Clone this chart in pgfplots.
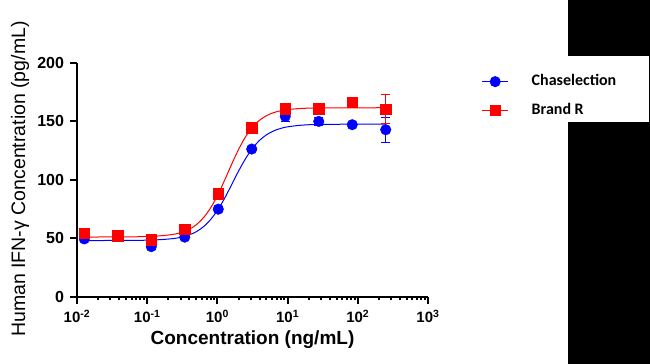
\documentclass[border=0pt]{standalone}
\usepackage{pgfplots}
\pgfplotsset{compat=1.18}
\usepackage{fontspec}
\setmainfont{Liberation Sans}
\newfontfamily\calfont{Carlito}
\begin{document}
\begin{tikzpicture}
\path[use as bounding box] (0,0) rectangle (650bp,364bp);
\fill[white] (0,0) rectangle (650bp,364bp);
\fill[black] (568bp,0) rectangle (650bp,364bp);
\fill[white] (568bp,242bp) rectangle (649bp,308bp);
\begin{axis}[
  at={(77bp,67.3bp)}, anchor=south west,
  scale only axis, width=351bp, height=234bp,
  xmode=log, xmin=1e-2, xmax=1e3, ymin=0, ymax=200,
  axis lines*=left,
  axis line style={line width=2bp},
  every tick/.style={line width=2bp, black},
  tick align=outside, major tick length=7bp,
  xtick={1e-2,1e-1,1,1e1,1e2,1e3},
  xticklabels={10\textsuperscript{-2},10\textsuperscript{-1},10\textsuperscript{0},10\textsuperscript{1},10\textsuperscript{2},10\textsuperscript{3}},
  ytick={0,50,100,150,200},
  yticklabels={0,50,100,150,200},
  minor tick num=0,
  xticklabel style={font=\bfseries\fontsize{15bp}{15bp}\selectfont, yshift=-3bp},
  yticklabel style={font=\bfseries\fontsize{16bp}{16bp}\selectfont, xshift=-2.5bp},
  xlabel={Concentration (ng/mL)},
  ylabel={Human IFN-γ Concentration (pg/mL)},
  xlabel style={font=\bfseries\fontsize{19bp}{19bp}\selectfont, at={(axis description cs:0.5,-0.2064)}, anchor=base},
  ylabel style={font=\fontsize{19.5bp}{19.5bp}\selectfont, at={(axis description cs:-0.148,0.503)}, anchor=base},
  clip=false,
  legend style={draw=none, fill=none, inner sep=0pt, outer sep=0pt,
    at={(axis description cs:1.153,0.951)}, anchor=north west,
    font=\calfont\bfseries\fontsize{16bp}{16bp}\selectfont,
    nodes={inner sep=0pt, text height=11bp, text depth=4bp},
    column sep=23bp, row sep=14.3bp},
  legend cell align=left,
  legend image code/.code={\draw[mark repeat=2,mark phase=2,#1] plot coordinates {(0bp,0bp) (13bp,0bp) (26bp,0bp)};},
]
\addlegendimage{blue, line width=1bp, mark=*, mark size=5bp, mark options={solid, fill=blue}}
\addlegendentry{Chaselection}
\addlegendimage{red, line width=1bp, mark=square*, mark size=5bp, mark options={solid, fill=red}}
\addlegendentry{Brand R}
% fitted curves
\addplot[blue, line width=1bp, smooth, forget plot] coordinates {
(0.0127,48.0) (0.1,48.3) (0.2512,49.9) (0.3981,52.9) (0.5012,55.6) (0.6310,59.7)
(0.7943,65.7) (1,73.7) (1.2589,83.8) (1.5849,95.4) (1.9953,107.2) (2.5119,117.9)
(3.1623,126.8) (3.9811,133.6) (5.0119,138.4) (6.3096,141.7) (7.9433,143.8)
(10,145.2) (15.849,146.6) (31.623,147.3) (250,147.5)};
\addplot[red, line width=1bp, smooth, forget plot] coordinates {
(0.0127,51.0) (0.1,51.4) (0.2512,53.6) (0.3981,57.7) (0.5012,61.6) (0.6310,67.4)
(0.7943,75.6) (1,86.3) (1.2589,99.2) (1.5849,112.8) (1.9953,125.7) (2.5119,136.6)
(3.1623,144.9) (3.9811,150.8) (5.0119,154.7) (6.3096,157.3) (7.9433,158.9)
(10,159.9) (15.849,160.9) (31.623,161.4) (250,161.5)};
% data
\addplot[blue, only marks, mark=*, mark size=5.3bp, forget plot,
  error bars/.cd, y dir=both, y explicit,
  error bar style={line width=1bp, blue},
  error mark options={rotate=90, mark size=4.5bp, line width=1bp, blue}]
  table[x=x, y=y, y error=e] {
x y e
0.0127 49.4 1.5
0.0381 51.4 1.5
0.1143 42.8 2.5
0.343 50.9 2
1.029 74.8 2
3.086 126.2 2
9.259 154.1 4
27.78 149.8 3.7
83.33 147.0 1.5
250 142.7 10.7
};
\addplot[red, only marks, mark=square*, mark size=5.3bp, forget plot,
  error bars/.cd, y dir=both, y explicit,
  error bar style={line width=1bp, red},
  error mark options={rotate=90, mark size=4.5bp, line width=1bp, red}]
  table[x=x, y=y, y error=e] {
x y e
0.0127 54.3 1
0.0381 52.0 1.5
0.1143 48.5 1.5
0.343 57.7 1.5
1.029 87.9 1.5
3.086 144.2 1.5
9.259 160.7 1.5
27.78 160.7 1.5
83.33 166.4 1
250 160.4 12
};
\end{axis}
\end{tikzpicture}
\end{document}
